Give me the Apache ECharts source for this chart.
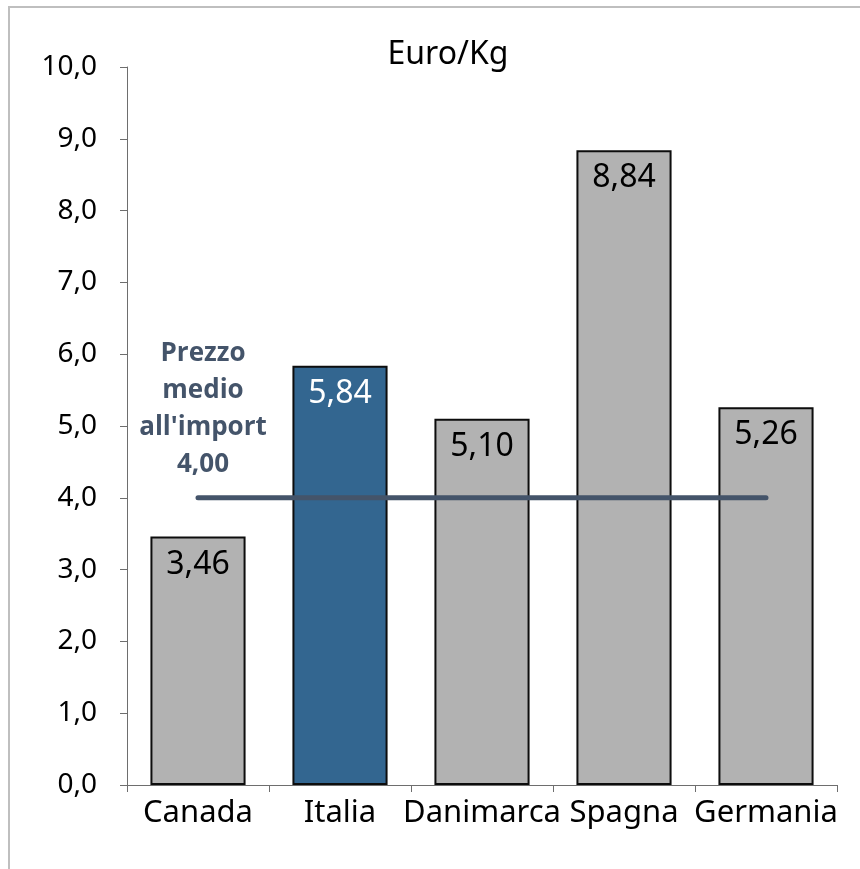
<!DOCTYPE html>
<html>
<head>
<meta charset="utf-8">
<script src="https://cdn.jsdelivr.net/npm/echarts@6/dist/echarts.min.js"></script>
<style>
  html, body { margin: 0; padding: 0; background: #fff; }
  #chart { width: 860px; height: 869px; }
</style>
</head>
<body>
<div id="chart"></div>
<script>
// data
const countries = ['Canada', 'Italia', 'Danimarca', 'Spagna', 'Germania'];
const prices = [3.46, 5.84, 5.10, 8.84, 5.26];
const avgImport = [4.00, 4.00, 4.00, 4.00, 4.00];
const avgLabel = "Prezzo\nmedio\nall'import";
const highlight = 'Italia';

const fontName = "'Noto Sans', sans-serif";
const lineColor = '#44546A';

function comma(v, d) {
    return Number(v).toFixed(d).replace('.', ',');
}

let chart = echarts.init(document.getElementById('chart'));

let barData = prices.map((v, i) => {
    let isHl = countries[i] === highlight;
    return {
        value: v,
        itemStyle: { color: isHl ? '#336690' : '#b2b2b2' },
        label: { color: isHl ? '#fff' : '#000' }
    };
});

let options = {
    backgroundColor: '#fff',
    animation: false,
    textStyle: { fontFamily: fontName },
    title: {
        text: 'Euro/Kg',
        left: 443,
        top: 34,
        textAlign: 'center',
        textStyle: { fontSize: 32, fontWeight: 'normal', color: '#000', fontFamily: fontName }
    },
    graphic: [{
        type: 'rect',
        shape: { x: 9, y: 7, width: 870, height: 880 },
        style: { fill: 'none', stroke: '#bfbfbf', lineWidth: 2 },
        silent: true
    }],
    grid: { left: 127, right: 23, top: 67, bottom: 84 },
    xAxis: {
        type: 'category',
        data: countries,
        axisLine: { lineStyle: { color: '#6e6e6e', width: 1 } },
        axisTick: { show: true, length: 7, lineStyle: { color: '#6e6e6e' } },
        axisLabel: { fontSize: 31, color: '#000', margin: 13, interval: 0, fontFamily: fontName }
    },
    yAxis: {
        type: 'value',
        min: 0,
        max: 10,
        interval: 1,
        splitLine: { show: false },
        axisLine: { show: true, lineStyle: { color: '#6e6e6e', width: 1 } },
        axisTick: { show: true, length: 7, lineStyle: { color: '#6e6e6e' } },
        axisLabel: {
            fontSize: 28, color: '#000', margin: 30, fontFamily: fontName,
            formatter: v => comma(v, 1)
        }
    },
    series: [{
        type: 'bar',
        data: barData,
        barWidth: '67%',
        itemStyle: { borderColor: '#0d0d0d', borderWidth: 2 },
        label: {
            show: true,
            position: 'insideTop',
            distance: 12,
            fontSize: 32,
            fontFamily: fontName,
            formatter: p => comma(p.value, 2)
        }
    }, {
        type: 'line',
        data: avgImport,
        symbol: 'none',
        lineStyle: { color: lineColor, width: 5, cap: 'round' },
        z: 5,
        markPoint: {
            symbol: 'circle',
            symbolSize: 0,
            silent: true,
            data: [{
                coord: [0, avgImport[0]],
                label: {
                    show: true,
                    position: 'top',
                    distance: 15,
                    offset: [5, 0],
                    align: 'center',
                    color: lineColor,
                    fontSize: 26,
                    fontWeight: 'bold',
                    lineHeight: 37,
                    fontFamily: "'Open Sans', 'Noto Sans', sans-serif",
                    formatter: avgLabel + '\n' + comma(avgImport[0], 2)
                }
            }]
        }
    }]
};
chart.setOption(options);
</script>
</body>
</html>
